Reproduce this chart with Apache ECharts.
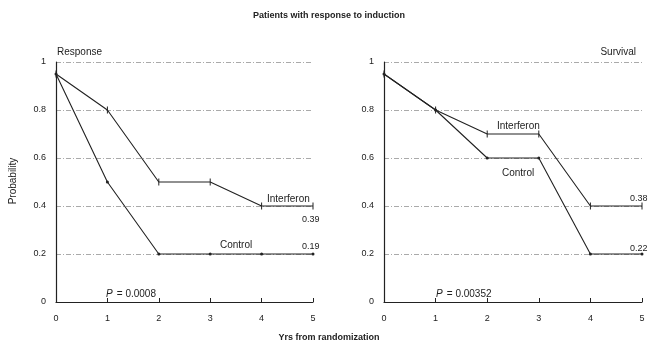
<style>
html, body { margin: 0; padding: 0; background: #fff; }
#chartElem { width: 658px; height: 347px; }
</style>

<div id="chartElem"></div>

<script src="https://cdn.jsdelivr.net/npm/echarts@6/dist/echarts.min.js"></script>

<script>

let years = [0, 1, 2, 3, 4, 5];

let responseInterferon = [0.95, 0.8, 0.5, 0.5, 0.4, 0.4];
let responseControl = [0.95, 0.5, 0.2, 0.2, 0.2, 0.2];

let survivalInterferon = [0.95, 0.8, 0.7, 0.7, 0.4, 0.4];
let survivalControl = [0.95, 0.8, 0.6, 0.6, 0.2, 0.2];

let yTicks = [0, 0.2, 0.4, 0.6, 0.8, 1];

let font = "Liberation Sans";
let ink = "#222";

let chart = echarts.init(document.getElementById("chartElem"));

chart.setOption(buildOption());


function pairs(values) {
	return years.map((x, i) => [x, values[i]]);
}

function makeXAxis(gridIndex) {
	return {
		gridIndex: gridIndex,
		type: "value",
		min: 0,
		max: 5,
		interval: 1,
		axisLine: { lineStyle: { color: ink, width: 1.2 } },
		axisTick: { inside: true, length: 4, lineStyle: { color: ink } },
		axisLabel: { color: ink, fontFamily: font, fontSize: 9, margin: 9 },
		splitLine: { show: false }
	};
}

function makeYAxis(gridIndex) {
	return {
		gridIndex: gridIndex,
		type: "value",
		min: 0,
		max: 1,
		interval: 0.2,
		axisLine: { show: true, lineStyle: { color: ink, width: 1.2 } },
		axisTick: { show: false },
		axisLabel: {
			color: ink, fontFamily: font, fontSize: 9, margin: 10,
			formatter: v => yTicks.includes(+v.toFixed(1)) ? String(+v.toFixed(1)) : ""
		},
		splitLine: { show: true, lineStyle: { color: "#aaa", type: [5, 2, 1, 2], width: 1 } }
	};
}

function interferonSeries(idx, values) {
	return {
		type: "line",
		xAxisIndex: idx,
		yAxisIndex: idx,
		data: pairs(values),
		symbol: "rect",
		symbolSize: [1, 7],
		showSymbol: true,
		itemStyle: { color: ink },
		lineStyle: { color: ink, width: 1.1 },
		animation: false,
		z: 3
	};
}

function controlSeries(idx, values) {
	return {
		type: "line",
		xAxisIndex: idx,
		yAxisIndex: idx,
		data: pairs(values),
		symbol: "circle",
		symbolSize: 3,
		showSymbol: true,
		itemStyle: { color: ink },
		lineStyle: { color: ink, width: 1.1 },
		animation: false,
		z: 3
	};
}

function txt(x, y, text, extra) {
	return {
		type: "text",
		x: x,
		y: y,
		style: Object.assign({
			text: text,
			fill: ink,
			font: "10px " + font
		}, extra || {})
	};
}

function buildOption() {
	return {
		backgroundColor: "#fff",
		animation: false,
		grid: [
			{ left: 56, right: 345, top: 62, bottom: 45 },
			{ left: 384, right: 16, top: 62, bottom: 45 }
		],
		xAxis: [makeXAxis(0), makeXAxis(1)],
		yAxis: [makeYAxis(0), makeYAxis(1)],
		series: [
			interferonSeries(0, responseInterferon),
			controlSeries(0, responseControl),
			interferonSeries(1, survivalInterferon),
			controlSeries(1, survivalControl)
		],
		graphic: [
			txt(329, 8, "Patients with response to induction", { font: "bold 9px " + font, align: "center" }),
			txt(329, 330, "Yrs from randomization", { font: "bold 9px " + font, align: "center" }),
			txt(57, 44, "Response"),
			txt(636, 44, "Survival", { align: "right" }),
			{
				type: "text",
				x: 13,
				y: 181,
				rotation: Math.PI / 2,
				style: { text: "Probability", fill: ink, font: "10px " + font, align: "center", verticalAlign: "middle" }
			},
			txt(267, 191, "Interferon"),
			txt(302, 212, "0.39", { font: "9px " + font }),
			txt(220, 237, "Control"),
			txt(302, 239, "0.19", { font: "9px " + font }),
			txt(106, 286, "P", { font: "italic 10px " + font }),
			txt(114, 286, " = 0.0008"),
			txt(497, 118, "Interferon"),
			txt(502, 165, "Control"),
			txt(630, 191, "0.38", { font: "9px " + font }),
			txt(630, 241, "0.22", { font: "9px " + font }),
			txt(436, 286, "P", { font: "italic 10px " + font }),
			txt(444, 286, " = 0.00352")
		]
	};
}

</script>
